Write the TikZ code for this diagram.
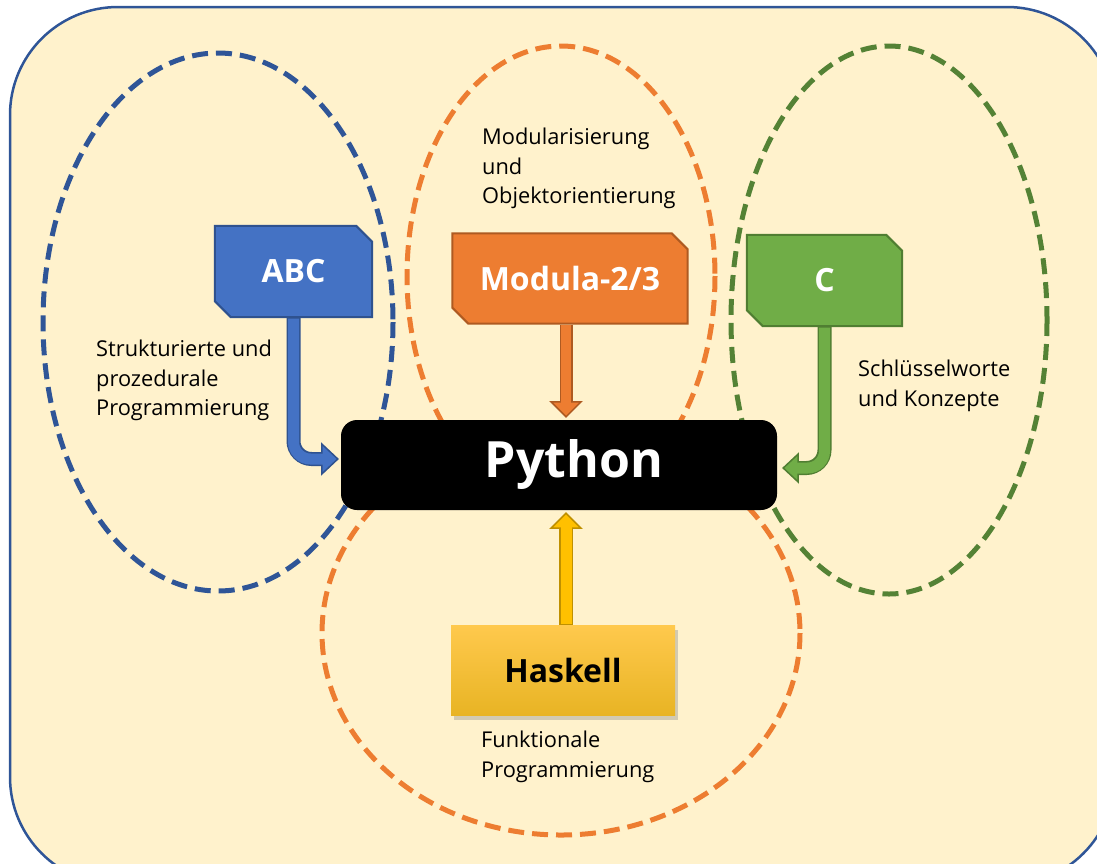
\documentclass[tikz,border=0pt]{standalone}
\usepackage{fontspec}
\setmainfont{Open Sans}
\usetikzlibrary{calc,shadows}
\definecolor{bgc}{HTML}{FFF2CC}
\definecolor{outerc}{HTML}{2F5597}
\definecolor{abcF}{HTML}{4472C4}
\definecolor{abcD}{HTML}{2F528F}
\definecolor{modF}{HTML}{ED7D31}
\definecolor{modD}{HTML}{AE5A21}
\definecolor{cF}{HTML}{70AD47}
\definecolor{cD}{HTML}{507E32}
\definecolor{ringB}{HTML}{2F5597}
\definecolor{ringO}{HTML}{ED7D31}
\definecolor{ringG}{HTML}{548235}
\definecolor{hkTop}{HTML}{FFC94D}
\definecolor{hkMid}{HTML}{FFC000}
\definecolor{hkBot}{HTML}{E8B424}
\definecolor{hkF}{HTML}{FFC000}
\definecolor{hkD}{HTML}{BF9000}
\pgfdeclarelayer{bg}
\pgfdeclarelayer{mid}
\pgfsetlayers{bg,mid,main}
\newcommand\chamferbox[3]{%
  \begin{pgfonlayer}{mid}
  \filldraw[fill=#2, draw=#3, line width=2pt, line join=miter]
    (#1.north west) -- ([xshift=-16pt]#1.north east) -- ([yshift=-16pt]#1.north east)
    -- (#1.south east) -- ([xshift=16pt]#1.south west) -- ([yshift=16pt]#1.south west) -- cycle;
  \end{pgfonlayer}}
\tikzset{
  ring/.style={line width=5pt, dash pattern=on 16pt off 8pt},
  langbox/.style={inner sep=0pt, text=white, font=\bfseries\fontsize{32}{32}\selectfont},
  lbl/.style={inner sep=0pt, anchor=north west, align=left, text=black, font=\fontsize{21.8}{29.5}\selectfont},
  shaftout/.style={line width=14pt, rounded corners=18pt},
  shaftin/.style={line width=11pt, rounded corners=17pt},
  headstyle/.style={line width=1.5pt, line join=miter}
}
\begin{document}
\begin{tikzpicture}[x=1pt,y=-1pt]
\useasboundingbox (0,0) rectangle (1097,863);
\begin{pgfonlayer}{bg}
\clip (0,0) rectangle (1097,863);
\draw[outerc, line width=2.5pt, fill=bgc, rounded corners=108pt] (10,7) rectangle (1115,885);
\draw[ring, ringB] (218,322) ellipse [x radius=175, y radius=269];
\draw[ring, ringG] (889,320) ellipse [x radius=158, y radius=274];
\draw[ring, ringO] (561,276) ellipse [x radius=154, y radius=230];
\draw[ring, ringO] (561,633) ellipse [x radius=239, y radius=202];
\end{pgfonlayer}

% language boxes
\node[langbox, minimum width=157pt, minimum height=91pt] (abc) at (293.5,271.5) {ABC};
\chamferbox{abc}{abcF}{abcD}
\node[langbox, minimum width=235pt, minimum height=90pt] (modula) at (570,278.5) {Modula-2/3};
\chamferbox{modula}{modF}{modD}
\node[langbox, minimum width=155pt, minimum height=91pt] (cl) at (824.5,280.5) {C};
\chamferbox{cl}{cF}{cD}

\node[fill=black, rounded corners=16pt, minimum width=436pt, minimum height=90pt, inner sep=0pt,
      text=white, font=\bfseries\fontsize{50}{50}\selectfont] (python) at (559,465) {\hspace*{30pt}Python};

\node[drop shadow={shadow xshift=3pt, shadow yshift=-5pt, opacity=0.35},
      top color=hkTop, middle color=hkMid, bottom color=hkBot, draw=none,
      minimum width=224pt, minimum height=90pt, inner sep=0pt,
      text=black, font=\bfseries\fontsize{32}{32}\selectfont] (haskell) at (563,670) {Haskell};

% labels
\node[lbl] (tmod) at (482,128) {Modularisierung\\und\\Objektorientierung};
\node[lbl] (tabc) at (96,340) {Strukturierte und\\prozedurale\\Programmierung};
\node[lbl] (tc) at (858,360) {Schlüsselworte\\und Konzepte};
\node[lbl] (thk) at (481,731) {Funktionale\\Programmierung};

% ABC -> Python
\coordinate (bt) at ($(python.west)+(-3,-6)$);
\draw[shaftout, abcD] ($(abc.south)+(0,1)$) |- ($(bt)+(-14,0)$);
\filldraw[headstyle, fill=abcF, draw=abcD] (bt) -- ++(-16,-15) -- ++(0,30) -- cycle;
\draw[shaftin, abcF] ($(abc.south)+(0,1.5)$) |- ($(bt)+(-14,0)$);

% C -> Python
\coordinate (gt) at ($(python.east)+(6,3)$);
\draw[shaftout, cD] ($(cl.south)+(0,1)$) |- ($(gt)+(14,0)$);
\filldraw[headstyle, fill=cF, draw=cD] (gt) -- ++(15,-14) -- ++(0,28) -- cycle;
\draw[shaftin, cF] ($(cl.south)+(0,1.5)$) |- ($(gt)+(13,0)$);

% Modula -> Python
\coordinate (mt) at ($(python.north)+(7,-3)$);
\draw[shaftout, line width=13pt, modD] ($(mt |- modula.south)+(0,1)$) -- ($(mt)+(0,-14)$);
\filldraw[headstyle, fill=modF, draw=modD] (mt) -- ++(-15,-15) -- ++(30,0) -- cycle;
\draw[shaftin, line width=10pt, modF] ($(mt |- modula.south)+(0,1.5)$) -- ($(mt)+(0,-14)$);

% Haskell -> Python
\coordinate (ht) at ($(python.south)+(7,3)$);
\draw[shaftout, line width=14pt, hkD] (ht |- haskell.north) -- ($(ht)+(0,14)$);
\filldraw[headstyle, fill=hkF, draw=hkD] (ht) -- ++(-15,15) -- ++(30,0) -- cycle;
\draw[shaftin, line width=11pt, hkF] ($(ht |- haskell.north)+(0,-1)$) -- ($(ht)+(0,14)$);
\end{tikzpicture}
\end{document}
